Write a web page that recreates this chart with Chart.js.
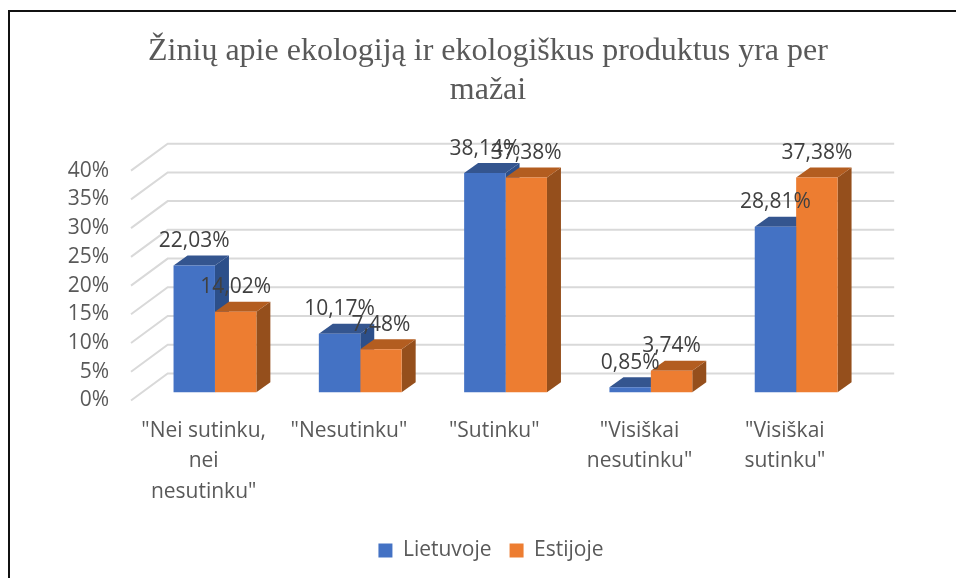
<!DOCTYPE html>
<html>
<head>
<meta charset="utf-8">
<style>
html,body{margin:0;padding:0;background:#fff;width:956px;height:578px;overflow:hidden}
#wrap{position:relative;width:956px;height:578px;overflow:hidden}
#frame{position:absolute;left:8px;top:10px;width:960px;height:600px;border-left:2px solid #111;border-top:2px solid #111;box-sizing:border-box}
canvas{position:absolute;left:0;top:0}
</style>
<script src="https://cdn.jsdelivr.net/npm/chart.js@4"></script>
</head>
<body>
<div id="wrap"><div id="frame"></div><canvas id="c" width="956" height="578"></canvas></div>
<script>
const titleLines = ['Žinių apie ekologiją ir ekologiškus produktus yra per', 'mažai'];
const categories = [
  ['"Nei sutinku,', 'nei', 'nesutinku"'],
  '"Nesutinku"',
  '"Sutinku"',
  ['"Visiškai', 'nesutinku"'],
  ['"Visiškai', 'sutinku"']
];
const lietuvoje = [22.03, 10.17, 38.14, 0.85, 28.81];
const estijoje = [14.02, 7.48, 37.38, 3.74, 37.38];

const UI_FONT = '"Open Sans"';
const wallDX = 36.7, wallDY = -27;
const barShiftX = 11.3, barShiftY = -8.3;
const barDX = 14, barDY = -10;
const faceColors = [
  {top: '#34558f', side: '#2c4f8a'},
  {top: '#b35d20', side: '#954f1c'}
];

const wallsPlugin = {
  id: 'walls',
  afterLayout(chart) {
    chart.legend.left += 3;
    chart.legend.right += 3;
  },
  beforeDatasetsDraw(chart) {
    const {ctx, chartArea, scales} = chart;
    ctx.save();
    ctx.strokeStyle = '#d9d9d9';
    ctx.lineWidth = 2;
    scales.y.ticks.forEach(t => {
      const y = scales.y.getPixelForValue(t.value);
      ctx.beginPath();
      ctx.moveTo(chartArea.left, y);
      ctx.lineTo(chartArea.left + wallDX, y + wallDY);
      ctx.lineTo(chartArea.right + wallDX, y + wallDY);
      ctx.stroke();
    });
    ctx.restore();

    ctx.save();
    ctx.translate(barShiftX, barShiftY);
    chart.data.datasets.forEach((ds, i) => {
      chart.getDatasetMeta(i).data.forEach(bar => {
        const p = bar.getProps(['x', 'y', 'base', 'width'], true);
        const l = p.x - p.width / 2, r = p.x + p.width / 2;
        ctx.fillStyle = faceColors[i].side;
        ctx.beginPath();
        ctx.moveTo(r, p.y);
        ctx.lineTo(r + barDX, p.y + barDY);
        ctx.lineTo(r + barDX, p.base + barDY);
        ctx.lineTo(r, p.base);
        ctx.closePath();
        ctx.fill();
        ctx.fillStyle = faceColors[i].top;
        ctx.beginPath();
        ctx.moveTo(l, p.y);
        ctx.lineTo(l + barDX, p.y + barDY);
        ctx.lineTo(r + barDX, p.y + barDY);
        ctx.lineTo(r, p.y);
        ctx.closePath();
        ctx.fill();
      });
    });
  },
  afterDatasetsDraw(chart) {
    const {ctx} = chart;
    ctx.restore();
    ctx.save();
    ctx.font = '21px ' + UI_FONT;
    ctx.fillStyle = '#404040';
    ctx.textAlign = 'center';
    ctx.textBaseline = 'middle';
    chart.data.datasets.forEach((ds, i) => {
      chart.getDatasetMeta(i).data.forEach((bar, j) => {
        const p = bar.getProps(['x', 'y'], true);
        const txt = ds.data[j].toFixed(2).replace('.', ',') + '%';
        ctx.fillText(txt, p.x + barShiftX, p.y + barShiftY - 24.5);
      });
    });
    ctx.restore();
  }
};

new Chart(document.getElementById('c'), {
  type: 'bar',
  data: {
    labels: categories,
    datasets: [
      {label: 'Lietuvoje', data: lietuvoje, backgroundColor: '#4472c4', clip: false},
      {label: 'Estijoje', data: estijoje, backgroundColor: '#ed7d31', clip: false}
    ]
  },
  plugins: [wallsPlugin],
  options: {
    responsive: false,
    animation: false,
    events: [],
    layout: {padding: {left: 20, right: 0, top: 0, bottom: 7}},
    datasets: {bar: {categoryPercentage: 0.57, barPercentage: 1}},
    plugins: {
      tooltip: {enabled: false},
      title: {
        display: true,
        text: titleLines,
        color: '#595959',
        font: {family: '"Liberation Serif"', size: 32, weight: 'normal', lineHeight: 1.19},
        padding: {top: 33, bottom: 61.5}
      },
      legend: {
        position: 'bottom',
        labels: {
          color: '#595959',
          font: {family: UI_FONT, size: 21},
          boxWidth: 14,
          boxHeight: 14,
          padding: 18
        }
      }
    },
    scales: {
      x: {
        grid: {display: false},
        border: {display: false},
        ticks: {
          color: '#595959',
          font: {family: UI_FONT, size: 21, lineHeight: 1.45},
          maxRotation: 0,
          padding: 7
        },
        afterFit(s) { s.height = 121.5; }
      },
      y: {
        min: 0,
        max: 40,
        grid: {display: false},
        border: {display: false},
        ticks: {
          stepSize: 5,
          color: '#595959',
          font: {family: UI_FONT, size: 21},
          padding: 14,
          callback: v => v + '%'
        },
        afterFit(s) { s.width = 111; }
      },
      yEdge: {
        position: 'right',
        grid: {display: false},
        border: {display: false},
        ticks: {display: false},
        afterFit(s) { s.width = 98.5; }
      }
    }
  }
});
</script>
</body>
</html>
